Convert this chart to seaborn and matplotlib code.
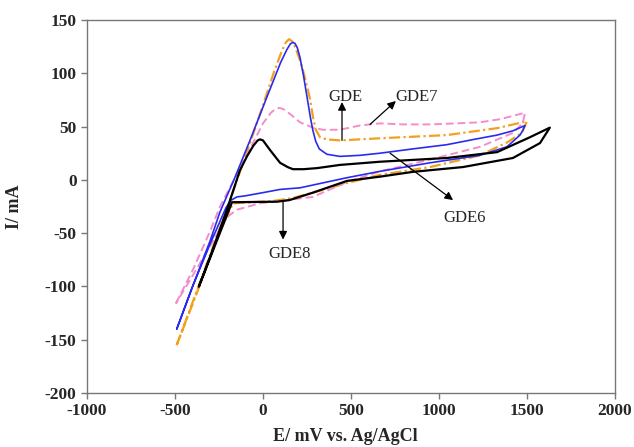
import matplotlib
matplotlib.use("Agg")
import matplotlib.pyplot as plt
import seaborn as sns

# cyclic voltammograms (E in mV vs Ag/AgCl, I in mA)
gde_E = [-490, -400, -300, -244, -160, -74, 23, 100, 135, 155, 170, 182, 195, 210, 230, 250, 270, 284,
         300, 320, 363, 437, 550, 665, 850, 1045, 1200, 1330, 1420, 1489, 1475, 1460, 1420, 1386, 1233,
         949, 665, 477, 210, 97, 0, -100, -148, -180, -210, -300, -400, -490]
gde_I = [-140, -100, -57, -30, 2, 37, 78, 110, 122, 127.5, 129, 128, 124, 115, 98, 78, 58, 46,
         36, 29, 24, 22, 23, 25, 29, 33, 38, 42, 46, 51, 46, 42, 36, 31, 23,
         16, 8, 2, -7.5, -9, -12, -15, -16, -19, -26, -60, -100, -140]

gde6_E = [-495, -400, -300, -244, -114, 0, 45, 75, 95, 120, 160, 210, 284, 340, 437, 550, 665, 800,
          949, 1100, 1233, 1350, 1420, 1489, 1475, 1420, 1233, 949, 665, 477, 284, -17, -148, -205,
          -300, -400, -495]
gde6_I = [-116, -85, -48, -25, 16, 53, 63, 67, 67.5, 66, 61, 54, 49, 47, 47, 51, 53, 52,
          52, 53, 54, 57, 60, 63, 53, 44, 31, 19, 8, -2, -16, -22, -28, -35,
          -62, -90, -116]

gde7_E = [-490, -400, -300, -200, -100, 0, 60, 105, 130, 148, 165, 185, 210, 227, 250, 267, 285, 300,
          324, 360, 437, 665, 1045, 1330, 1500, 1470, 1386, 1233, 949, 665, 477, 284, 170, 50, -170,
          -250, -350, -490]
gde7_I = [-155, -115, -70, -25, 22, 70, 100, 120, 129, 132, 130, 124, 112, 103, 88, 76, 58, 47,
          40, 38, 37, 39, 42, 48.5, 55, 44, 35, 23, 12, 4.7, -3, -12, -17, -20, -22,
          -50, -95, -155]

gde8_E = [-364, -300, -205, -131, -91, -55, -30, -17, 0, 40, 97, 140, 170, 230, 307, 437, 665, 1045,
          1330, 1517, 1630, 1574, 1420, 1136, 852, 665, 477, 284, 150, 80, -176, -250, -364]
gde8_I = [-100, -72, -28, 9, 22, 32, 37, 38, 37, 28, 16, 12, 10, 10, 11, 14, 17, 20.5,
          26, 40, 49, 34.5, 20.5, 12, 7.5, 3, -1, -12, -19, -20.5, -21, -52, -100]

x_ticks = [-1000, -500, 0, 500, 1000, 1500, 2000]
y_ticks = [-200, -150, -100, -50, 0, 50, 100, 150]

sns.set_theme(style="white")
plt.rcParams["font.family"] = ["Liberation Serif", "DejaVu Serif"]
plt.rcParams["axes.unicode_minus"] = False

fig = plt.figure(figsize=(6.34, 4.47), dpi=100)
ax = fig.add_axes([0.1372, 0.1208, 0.8328, 0.8345])

sns.lineplot(x=gde7_E, y=gde7_I, sort=False, estimator=None, ax=ax,
             color="#f2a01e", lw=1.6, linestyle=(0, (5, 1.5, 1, 1.5)))
sns.lineplot(x=gde6_E, y=gde6_I, sort=False, estimator=None, ax=ax,
             color="#f58ccb", lw=1.4, linestyle=(0, (4, 2)))
sns.lineplot(x=gde_E, y=gde_I, sort=False, estimator=None, ax=ax,
             color="#2b2bf0", lw=1.2)
sns.lineplot(x=gde8_E, y=gde8_I, sort=False, estimator=None, ax=ax,
             color="black", lw=1.6)

arrow = dict(arrowstyle="-|>", color="black", lw=0.9, mutation_scale=12, shrinkA=0, shrinkB=0)
ax.annotate("", xy=(449, 73), xytext=(449, 37), arrowprops=arrow)
ax.text(466, 78, "GDE", ha="center", va="center", fontsize=12)
ax.annotate("", xy=(755, 74), xytext=(608, 52), arrowprops=arrow)
ax.text(875, 78, "GDE7", ha="center", va="center", fontsize=12)
ax.annotate("", xy=(1080, -19), xytext=(722, 25), arrowprops=arrow)
ax.text(1148, -36, "GDE6", ha="center", va="center", fontsize=12)
ax.annotate("", xy=(114, -56), xytext=(114, -21), arrowprops=arrow)
ax.text(153, -70, "GDE8", ha="center", va="center", fontsize=12)

ax.set_xlim(-1000, 2000)
ax.set_ylim(-200, 150)
ax.set_xticks(x_ticks)
ax.set_yticks(y_ticks)
ax.tick_params(direction="out", length=4, width=1, color="#777777", labelsize=12.5,
               bottom=True, left=True)
for lab in ax.get_xticklabels() + ax.get_yticklabels():
    lab.set_fontweight("bold")
for s in ax.spines.values():
    s.set_color("#777777")
    s.set_linewidth(1)

ax.set_xlabel("E/ mV vs. Ag/AgCl", fontsize=13, fontweight="bold")
ax.set_ylabel("I/ mA", fontsize=13, fontweight="bold")
ax.yaxis.set_label_coords(-0.122, 0.5)
ax.xaxis.set_label_coords(0.49, -0.095)

fig.savefig("out.png", dpi=100)
